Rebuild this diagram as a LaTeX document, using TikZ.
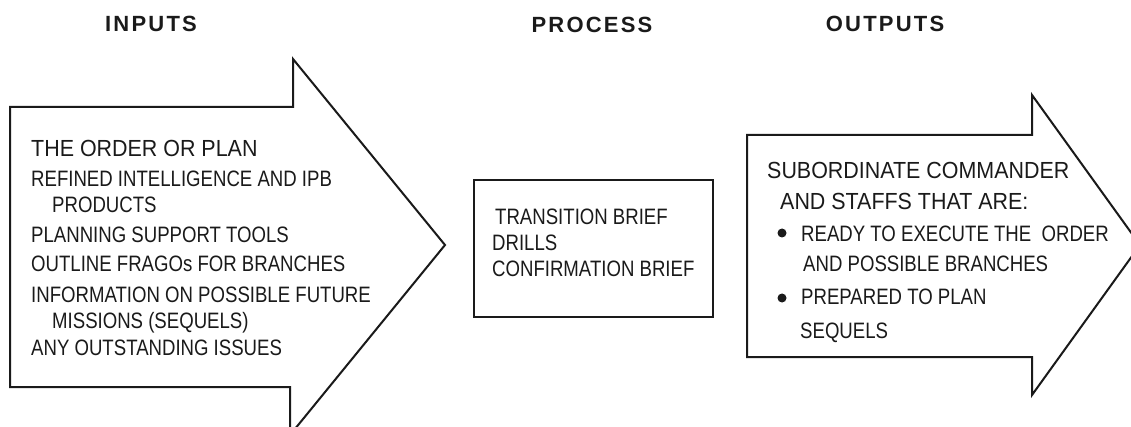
\documentclass[tikz,border=0pt]{standalone}
\usepackage{fontspec}
\setmainfont{Liberation Sans}
\newfontfamily\hdfont[LetterSpace=10]{Liberation Sans}
\newfontfamily\itemfont[FakeStretch=0.834]{Liberation Sans}
\newfontfamily\bigfont[FakeStretch=0.92]{Liberation Sans}
\definecolor{ink}{HTML}{1A1A1A}
\begin{document}
\begin{tikzpicture}[x=1pt,y=-1pt,
  outline/.style={draw=ink,line width=2pt,line join=miter,fill=white},
  hdr/.style={anchor=base,inner sep=0pt,font=\hdfont\fontsize{22}{22}\selectfont\bfseries,text=ink},
  big/.style={anchor=base west,inner sep=0pt,font=\bigfont\fontsize{23.3}{26}\selectfont,text=ink},
  item/.style={anchor=base west,inner sep=0pt,font=\itemfont\fontsize{22.3}{25}\selectfont,text=ink},
  dot/.style={circle,fill=ink,inner sep=0pt,minimum size=9pt}]
\useasboundingbox (0,0) rectangle (1131,427);
\clip (0,0) rectangle (1131,427);
\fill[white] (0,0) rectangle (1131,427);
% headers
\node[hdr] (hin) at (151,32) {INPUTS};
\node[hdr] (hpr) at (592,33) {PROCESS};
\node[hdr] (hout) at (885,31.5) {OUTPUTS};
% left arrow
\draw[outline] (10,107) -- (293,107) -- (293,59) -- (445,245) -- (290,435) -- (290,387) -- (10,387) -- cycle;
\node[big]  (l1) at (31,157) {THE ORDER OR PLAN};
\node[item] (l2) at (31,187) {REFINED INTELLIGENCE AND IPB};
\node[item] (l3) at (52,213) {PRODUCTS};
\node[item] (l4) at (31,243) {PLANNING SUPPORT TOOLS};
\node[item] (l5) at (31,272) {OUTLINE FRAGOs FOR BRANCHES};
\node[item] (l6) at (31,302) {INFORMATION ON POSSIBLE FUTURE};
\node[item] (l7) at (52,328) {MISSIONS (SEQUELS)};
\node[item] (l8) at (31,355) {ANY OUTSTANDING ISSUES};
% middle box
\draw[outline,line width=2.6pt] (474,180) rectangle (713,317);
\node[item] (m1) at (495,225) {TRANSITION BRIEF};
\node[item] (m2) at (492,251) {DRILLS};
\node[item] (m3) at (492,277) {CONFIRMATION BRIEF};
% right arrow
\draw[outline] (747,135) -- (1032,135) -- (1032,95) -- (1140,245) -- (1032,395) -- (1032,357) -- (747,357) -- cycle;
\node[big]  (r1) at (767,179) {SUBORDINATE COMMANDER};
\node[big]  (r2) at (780,210) {AND STAFFS THAT ARE:};
\node[dot]  (b1) at (782,233) {};
\node[item] (r3) at (801,242) {READY TO EXECUTE THE\ \ ORDER};
\node[item] (r4) at (803,272) {AND POSSIBLE BRANCHES};
\node[dot]  (b2) at (782,298) {};
\node[item] (r5) at (801,305) {PREPARED TO PLAN};
\node[item] (r6) at (800,338) {SEQUELS};
\end{tikzpicture}
\end{document}
